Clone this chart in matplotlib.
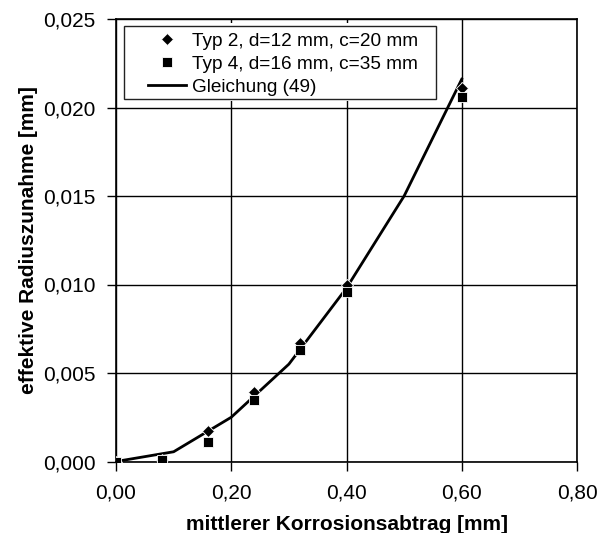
import matplotlib
matplotlib.use("Agg")
import matplotlib.pyplot as plt
from matplotlib.patches import Rectangle
from matplotlib.ticker import FuncFormatter

plt.rcParams['font.family'] = ['Liberation Sans', 'DejaVu Sans']

# Measured data
x_typ2 = [0.00, 0.08, 0.16, 0.24, 0.32, 0.40, 0.60]
y_typ2 = [0.0000, 0.0001, 0.0017, 0.0039, 0.0067, 0.0100, 0.0211]

x_typ4 = [0.00, 0.08, 0.16, 0.24, 0.32, 0.40, 0.60]
y_typ4 = [0.0000, 0.0001, 0.0011, 0.0035, 0.0063, 0.0096, 0.0206]

# Equation (49)
x_eq = [0.0, 0.1, 0.2, 0.3, 0.4, 0.5, 0.6]
y_eq = [0.0, 0.00055, 0.0025, 0.0055, 0.0098, 0.0150, 0.0216]

labels = ["Typ 2, d=12 mm, c=20 mm", "Typ 4, d=16 mm, c=35 mm", "Gleichung (49)"]

W, H = 598, 533
fig = plt.figure(figsize=(W / 100, H / 100), dpi=100)
ax = fig.add_axes([116 / W, 1 - 461.5 / H, 461 / W, 442.5 / H])

ax.plot(x_typ2, y_typ2, linestyle='none', marker='D', markersize=6.5,
        color='black', markeredgecolor='white', markeredgewidth=0.6,
        label=labels[0], zorder=4)
ax.plot(x_typ4, y_typ4, linestyle='none', marker='s', markersize=7.5,
        color='black', markeredgecolor='white', markeredgewidth=0.6,
        label=labels[1], zorder=5)
ax.plot(x_eq, y_eq, color='black', linewidth=2.0, label=labels[2], zorder=3)

ax.set_xlim(0, 0.8)
ax.set_ylim(0, 0.025)
ax.set_xticks([0.0, 0.2, 0.4, 0.6, 0.8])
ax.set_yticks([0.0, 0.005, 0.010, 0.015, 0.020, 0.025])
ax.xaxis.set_major_formatter(FuncFormatter(lambda v, p: f"{v:.2f}".replace('.', ',')))
ax.yaxis.set_major_formatter(FuncFormatter(lambda v, p: f"{v:.3f}".replace('.', ',')))

ax.grid(True, color='black', linewidth=1.0)
ax.set_axisbelow(True)
for s in ax.spines.values():
    s.set_color('black')
    s.set_linewidth(1.2)
ax.tick_params(direction='out', length=6.5, width=1, labelsize=15, colors='black')
ax.tick_params(axis='x', pad=9)
ax.tick_params(axis='y', pad=8)

ax.set_xlabel("mittlerer Korrosionsabtrag [mm]", fontsize=15, fontweight='bold', labelpad=9)
ax.set_ylabel("effektive Radiuszunahme [mm]", fontsize=15, fontweight='bold', labelpad=4)

# legend box with white margin
ax.add_patch(Rectangle((121 / W, 1 - 101 / H), 317 / W, 78 / H,
                       transform=fig.transFigure, facecolor='white',
                       edgecolor='none', zorder=6, clip_on=False))
ax.add_patch(Rectangle((123.5 / W, 1 - 99 / H), 312 / W, 73 / H,
                       transform=fig.transFigure, facecolor='white',
                       edgecolor='#222222', linewidth=1.0, zorder=7, clip_on=False))
leg = ax.legend(loc='upper left', bbox_to_anchor=(148 / W, 1 - 32.5 / H),
                bbox_transform=fig.transFigure,
                fontsize=13.7, frameon=False, borderpad=0, labelspacing=0.3,
                handlelength=2.0, handletextpad=0.3, borderaxespad=0)
leg.set_zorder(8)

fig.savefig("out.png", dpi=100)
